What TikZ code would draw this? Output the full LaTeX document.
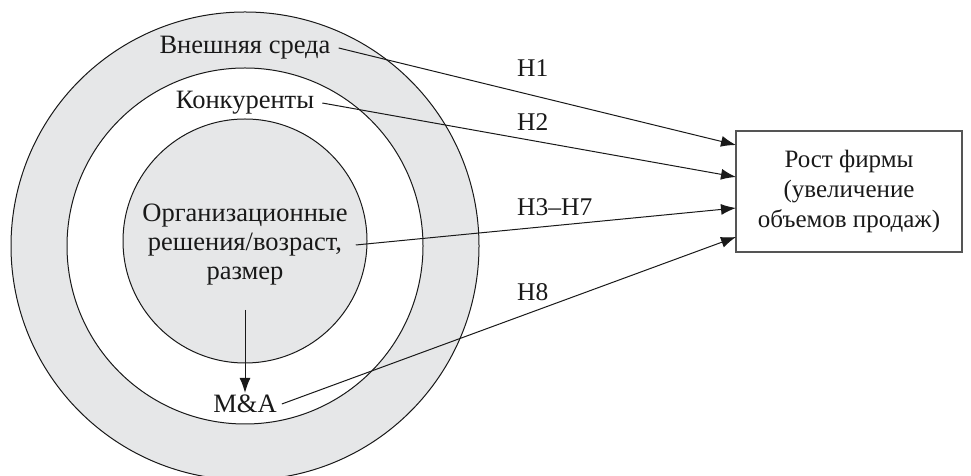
\documentclass[tikz,border=0pt]{standalone}
\usepackage{fontspec}
\setmainfont{Liberation Serif}
\usetikzlibrary{arrows.meta}
\definecolor{ringgray}{HTML}{E6E7E8}
\definecolor{boxgray}{HTML}{555555}
\tikzset{
  txt/.style={font=\fontsize{26.5}{29}\selectfont, text=black!90, align=center, inner sep=2pt},
  hyp/.style={font=\fontsize{25.5}{29}\selectfont, text=black!90, anchor=west, inner sep=0pt},
  conn/.style={line width=1pt, draw=black!90},
  arr/.style={conn, -{Latex[length=15pt,width=11pt]}},
  ring/.style={draw=black!90, line width=1pt}
}
\begin{document}
\begin{tikzpicture}[x=1pt,y=1pt]
\useasboundingbox (0,0) rectangle (971,476);
\begin{scope}
\clip (0,0) rectangle (971,476);
\fill[ringgray, ring] (245,230) circle (234);
\end{scope}
\fill[white, ring] (245,230) circle (178);
\fill[ringgray, ring] (245,235) circle (122);

\node[txt] (ext) at (245,428) {Внешняя среда};
\node[txt] (comp) at (245,373) {Конкуренты};
\node[txt] (org) at (245,231) {Организационные\\решения/возраст,\\размер};
\node[txt] (ma) at (245,72) {M\&A};

\node[draw=boxgray, line width=1.2pt, minimum width=226pt, minimum height=121pt, inner sep=0pt,
      font=\fontsize{25}{30}\selectfont, align=center, text=black!90] (box) at (849,284.5)
      {Рост фирмы\\(увеличение\\объемов продаж)};

\coordinate (t1) at (736,331);
\coordinate (t2) at (736,299);
\coordinate (t3) at (736,268);
\coordinate (t4) at (736,239);

\draw[arr] ([xshift=6pt]ext.east) -- (t1);
\draw[arr] ([xshift=6pt]comp.east) -- (t2);
\draw[arr] ([xshift=6pt]org.east) -- (t3);
\draw[arr] ([xshift=3pt]ma.east) -- (t4);
\draw[arr] ([yshift=-22pt]org.south) -- (ma.north);

\node[hyp] (h1) at (517,408) {H1};
\node[hyp] (h2) at (517,354) {H2};
\node[hyp] (h3) at (517,269) {H3--H7};
\node[hyp] (h8) at (517,184) {H8};
\end{tikzpicture}
\end{document}
